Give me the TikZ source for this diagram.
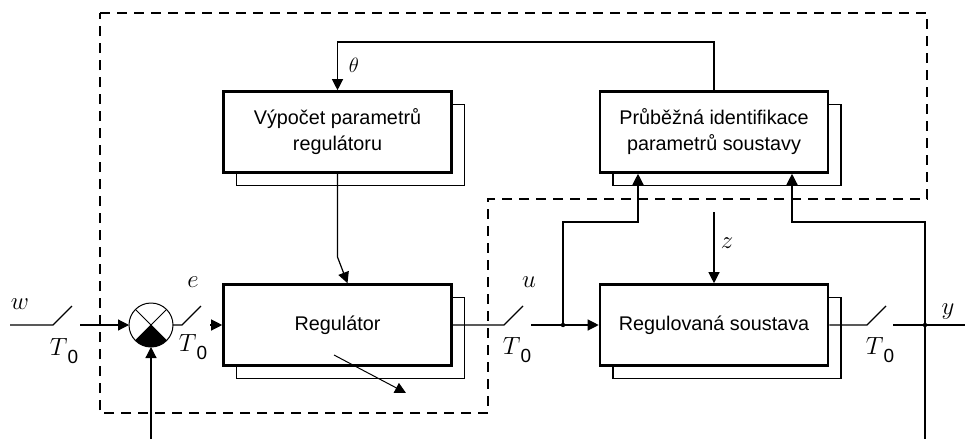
\documentclass[tikz,border=0pt]{standalone}
\usepackage{fontspec}
\setmainfont{Liberation Sans}
\usetikzlibrary{arrows.meta, shadows, calc, positioning}

\newcommand{\Tzero}{$T$\raisebox{-0.38em}{\fontsize{19}{20}\selectfont 0}}

\begin{document}
\begin{tikzpicture}[x=1pt, y=-1pt, line width=1.2pt,
    blok/.style={draw, line width=2.6pt, fill=white, minimum width=228pt,
      minimum height=81pt, align=center, font=\fontsize{19.8}{26}\selectfont,
      copy shadow={shadow xshift=13pt, shadow yshift=-13pt, draw=black,
        fill=white, line width=1.2pt}},
    arr/.style={-{Triangle[length=11pt,width=11pt]}},
    lbl/.style={font=\fontsize{23}{26}\selectfont}]
  \useasboundingbox (0,0) rectangle (965,439);

  % Boundary of the adaptive part
  \draw[dash pattern=on 10pt off 7pt] (100,13) -- (927,13) -- (927,199)
    -- (488,199) -- (488,413) -- (100,413) -- cycle;

  % Nodes
  \node[blok] (calc) at (337.5,132) {Výpočet parametrů\\regulátoru};
  \node[blok] (ident) at (714,132) {Průběžná identifikace\\parametrů soustavy};
  \node[blok] (reg) at (337.5,325) {Regulátor};
  \node[blok] (sys) at (714,325) {Regulovaná soustava};
  \node[circle, draw, line width=1pt, minimum size=44pt, inner sep=0pt,
    outer sep=0pt] (sum) at (151,325) {};
  \draw[line width=1pt] (sum.45) -- (sum.225) (sum.135) -- (sum.315);
  \fill (sum.center) -- (sum.225) arc[start angle=135, end angle=45, radius=22] -- cycle;

  % Points
  \coordinate (win) at (10,325);
  \coordinate (s1a) at (53,325);
  \coordinate (s1b) at (72,306);
  \coordinate (s1c) at (80,325);
  \coordinate (vin) at (151,439);
  \coordinate (s2a) at (182,325);
  \coordinate (s2b) at (201,306);
  \coordinate (s2c) at (210,325);
  \coordinate (s3a) at (504,325);
  \coordinate (s3b) at (523,306);
  \coordinate (s3c) at (531,325);
  \coordinate (ju) at (563,325);
  \coordinate (s4a) at (867,325);
  \coordinate (s4b) at (886,306);
  \coordinate (s4c) at (893,325);
  \coordinate (jy) at (925,325);
  \coordinate (yout) at (965,325);
  \coordinate (ydown) at (925,439);
  \coordinate (zin) at (714,212);
  \coordinate (fb) at (337.5,42);
  \coordinate (kink) at (337.5,257);
  \coordinate (ku) at (638,222);
  \coordinate (ky) at (792,222);
  \coordinate (ad1) at (334,355);
  \coordinate (ad2) at (406,393);

  % Edges
  \draw (win) -- (s1a) -- (s1b);
  \draw[arr] (s1c) -- (sum);
  \draw[arr] (vin) -- (sum);
  \draw (sum) -- (s2a) -- (s2b);
  \draw[arr] (s2c) -- (reg);
  \draw (reg) -- (s3a) -- (s3b);
  \draw[arr] (s3c) -- (sys);
  \draw (sys) -- (s4a) -- (s4b);
  \draw (s4c) -- (yout);
  \draw (jy) -- (ydown);
  \draw[arr] (ju) |- (ku) -- (ku |- ident.south);
  \draw[arr] (jy) |- (ky) -- (ky |- ident.south);
  \draw[arr] (zin) -- (sys);
  \draw[arr] (ident.north) |- (fb) -- (calc.north);
  \draw[arr] (calc.south) -- (kink) -- ($(reg.north)+(10,0)$);
  \draw[arr, line width=1pt] (ad1) -- (ad2);
  \fill (ju) circle[radius=2.2];
  \fill (jy) circle[radius=2.2];

  % Labels
  \node[lbl] (lw) at (20,304) {$w$};
  \node[lbl] (le) at (193,282) {$e$};
  \node[lbl] (lu) at (529,282) {$u$};
  \node[lbl] (lz) at (727,243) {$z$};
  \node[lbl] (ly) at (948,312) {$y$};
  \node[font=\fontsize{20}{22}\selectfont] (lth) at (354,65) {$\theta$};
  \node[lbl] (t1) at (64,351) {\Tzero};
  \node[lbl] (t2) at (193,347) {\Tzero};
  \node[lbl] (t3) at (517,350) {\Tzero};
  \node[lbl] (t4) at (880,350) {\Tzero};

\end{tikzpicture}
\end{document}
